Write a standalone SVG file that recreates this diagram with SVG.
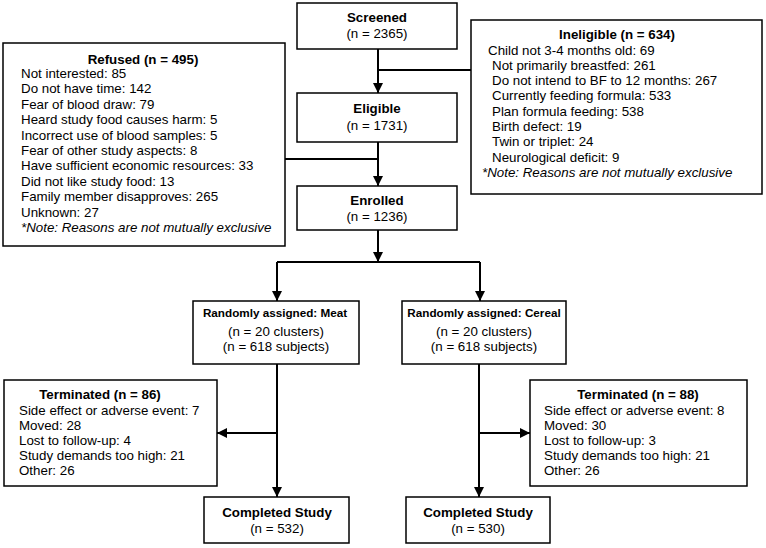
<svg xmlns="http://www.w3.org/2000/svg" width="766" height="548" viewBox="0 0 766 548">
<defs>
<style>
text{font-family:"Liberation Sans",Arial,sans-serif;font-size:13.33px;fill:#000}
.b{font-weight:bold}
.c{text-anchor:middle}
.s{font-size:11.7px}
.i{font-style:italic}
rect{fill:#fff;stroke:#000;stroke-width:1.5}
.ln{fill:none;stroke:#000;stroke-width:2}
</style>
<marker id="ah" markerUnits="userSpaceOnUse" markerWidth="10" markerHeight="10" refX="10" refY="5" orient="auto">
<path d="M0,0 L10,5 L0,10 z" fill="#000"/>
</marker>
</defs>
<g id="connectors">
<path class="ln" d="M378,49 V93" marker-end="url(#ah)"/>
<path class="ln" d="M378,70 H471"/>
<path class="ln" d="M378,142 V186" marker-end="url(#ah)"/>
<path class="ln" d="M285,159 H378"/>
<path class="ln" d="M378,230 V262" marker-end="url(#ah)"/>
<path class="ln" d="M277,262 H480"/>
<path class="ln" d="M277,262 V301" marker-end="url(#ah)"/>
<path class="ln" d="M480,262 V301" marker-end="url(#ah)"/>
<path class="ln" d="M277,364 V497" marker-end="url(#ah)"/>
<path class="ln" d="M277,433 H217" marker-end="url(#ah)"/>
<path class="ln" d="M479,364 V497" marker-end="url(#ah)"/>
<path class="ln" d="M479,433 H530" marker-end="url(#ah)"/>
</g>
<g id="screened">
<rect x="297" y="3" width="160" height="46"/>
<text class="b c" x="377" y="22">Screened</text>
<text class="c" x="377" y="38">(n = 2365)</text>
</g>
<g id="eligible">
<rect x="297" y="93" width="160" height="49"/>
<text class="b c" x="377" y="113">Eligible</text>
<text class="c" x="377" y="130">(n = 1731)</text>
</g>
<g id="enrolled">
<rect x="297" y="186" width="160" height="44"/>
<text class="b c" x="377" y="205">Enrolled</text>
<text class="c" x="377" y="221">(n = 1236)</text>
</g>
<g id="refused">
<rect x="3" y="43" width="282" height="203"/>
<text class="b c" x="143" y="64">Refused (n = 495)</text>
<text x="21" y="78">Not interested: 85</text>
<text x="21" y="93.4">Do not have time: 142</text>
<text x="21" y="108.8">Fear of blood draw: 79</text>
<text x="21" y="124.2">Heard study food causes harm: 5</text>
<text x="21" y="139.6">Incorrect use of blood samples: 5</text>
<text x="21" y="155">Fear of other study aspects: 8</text>
<text x="21" y="170.4">Have sufficient economic resources: 33</text>
<text x="21" y="185.8">Did not like study food: 13</text>
<text x="21" y="201.2">Family member disapproves: 265</text>
<text x="21" y="216.6">Unknown: 27</text>
<text class="i" x="21" y="232">*Note: Reasons are not mutually exclusive</text>
</g>
<g id="ineligible">
<rect x="471" y="20" width="291" height="174"/>
<text class="b c" x="617" y="39">Ineligible (n = 634)</text>
<text x="488" y="54.5">Child not 3-4 months old: 69</text>
<text x="492" y="69.8">Not primarily breastfed: 261</text>
<text x="492" y="85.1">Do not intend to BF to 12 months: 267</text>
<text x="492" y="100.4">Currently feeding formula: 533</text>
<text x="492" y="115.7">Plan formula feeding: 538</text>
<text x="492" y="131">Birth defect: 19</text>
<text x="492" y="146.3">Twin or triplet: 24</text>
<text x="492" y="161.6">Neurological deficit: 9</text>
<text class="i" x="482" y="177">*Note: Reasons are not mutually exclusive</text>
</g>
<g id="meat">
<rect x="193" y="301" width="166" height="63"/>
<text class="b c s" x="275" y="317">Randomly assigned: Meat</text>
<text class="c" x="276" y="336">(n = 20 clusters)</text>
<text class="c" x="276" y="351">(n = 618 subjects)</text>
</g>
<g id="cereal">
<rect x="402" y="301" width="164" height="63"/>
<text class="b c s" x="484" y="317">Randomly assigned: Cereal</text>
<text class="c" x="484" y="336">(n = 20 clusters)</text>
<text class="c" x="484" y="351">(n = 618 subjects)</text>
</g>
<g id="terminated-meat">
<rect x="4" y="380" width="213" height="106"/>
<text class="b c" x="100" y="399">Terminated (n = 86)</text>
<text x="19" y="415">Side effect or adverse event: 7</text>
<text x="19" y="430">Moved: 28</text>
<text x="19" y="445">Lost to follow-up: 4</text>
<text x="19" y="460">Study demands too high: 21</text>
<text x="19" y="475">Other: 26</text>
</g>
<g id="terminated-cereal">
<rect x="530" y="380" width="217" height="106"/>
<text class="b c" x="638" y="399">Terminated (n = 88)</text>
<text x="544" y="415">Side effect or adverse event: 8</text>
<text x="544" y="430">Moved: 30</text>
<text x="544" y="445">Lost to follow-up: 3</text>
<text x="544" y="460">Study demands too high: 21</text>
<text x="544" y="475">Other: 26</text>
</g>
<g id="completed-meat">
<rect x="204" y="497" width="145" height="46"/>
<text class="b c" x="277" y="517">Completed Study</text>
<text class="c" x="277" y="533">(n = 532)</text>
</g>
<g id="completed-cereal">
<rect x="406" y="497" width="144" height="46"/>
<text class="b c" x="478" y="517">Completed Study</text>
<text class="c" x="478" y="533">(n = 530)</text>
</g>
</svg>
